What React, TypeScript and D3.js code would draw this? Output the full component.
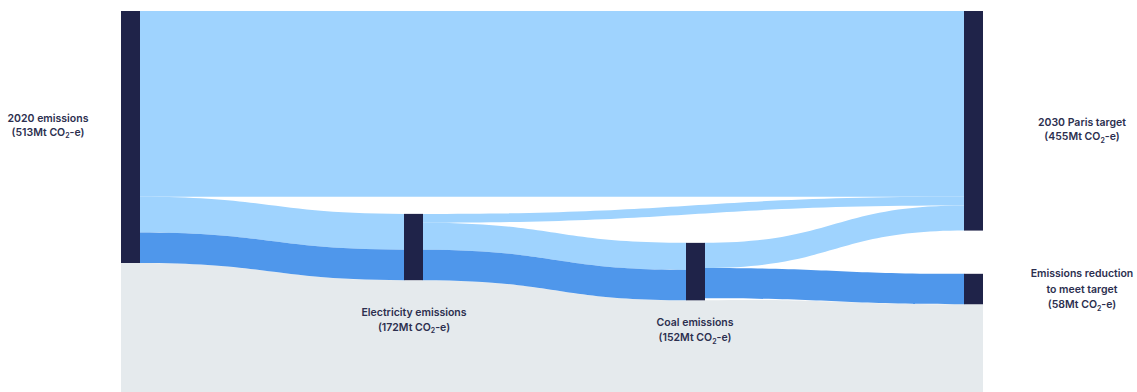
import React from "react";
import * as d3 from "d3";

// ---- data (Mt CO2-e) ----
const nodeNames = ["2020 emissions", "Electricity emissions", "Coal emissions", "2030 Paris target", "Emissions reduction"];
const nodeLabelLines = [
  ["2020 emissions", "(513Mt CO₂-e)"],
  ["Electricity emissions", "(172Mt CO₂-e)"],
  ["Coal emissions", "(152Mt CO₂-e)"],
  ["2030 Paris target", "(455Mt CO₂-e)"],
  ["Emissions reduction", "to meet target", "(58Mt CO₂-e)"],
];
const linkSources = [0, 0, 0, 1, 1, 1, 2, 2];
const linkTargets = [3, 1, 1, 3, 2, 2, 3, 4];
const linkValues = [378, 73, 62, 18, 55, 62, 51, 62];
const linkKinds = ["light", "light", "dark", "light", "light", "dark", "light", "dark"];

// ---- layout (not data) ----
const W = 1137;
const H = 392;
const nodeColumn = [0, 1, 2, 3, 3];
const nodeOffset = [0, 413, 472, 0, 535]; // in Mt units from the top
const labelAnchor = [
  { x: 48, y: 122, lh: 13.5 },
  { x: 414, y: 316, lh: 14.5 },
  { x: 695, y: 326, lh: 15 },
  { x: 1082, y: 126, lh: 14 },
  { x: 1082, y: 277, lh: 15.5 },
];
const NODE_W = 19;
const COLORS = {
  light: "#9fd3fe",
  dark: "#4f97eb",
  node: "#1f2349",
  grey: "#e5eaed",
  text: "#2c2f4f",
};

function ribbon(x0: number, x1: number, s0: number, s1: number, t0: number, t1: number) {
  const xm = (x0 + x1) / 2;
  return `M${x0},${s0}C${xm},${s0} ${xm},${t0} ${x1},${t0}L${x1},${t1}C${xm},${t1} ${xm},${s1} ${x0},${s1}Z`;
}

function Line({ text }: { text: string }) {
  const parts = text.split("CO₂");
  if (parts.length === 1) return <>{text}</>;
  return (
    <>
      {parts[0]}CO
      <tspan fontSize={7} dy={2.5}>2</tspan>
      <tspan dy={-2.5}>{parts[1]}</tspan>
    </>
  );
}

export default function App() {
  const x = d3.scaleLinear().domain([0, 1, 2, 3]).range([121, 404, 686, 964]);
  const y = d3.scaleLinear().domain([0, 513]).range([11, 263]);

  const nodeValue = nodeNames.map((_, i) => {
    const out = d3.sum(linkValues.filter((_, j) => linkSources[j] === i));
    const inn = d3.sum(linkValues.filter((_, j) => linkTargets[j] === i));
    return Math.max(out, inn);
  });
  const nodes = nodeNames.map((name, i) => ({
    name,
    x0: x(nodeColumn[i]),
    x1: x(nodeColumn[i]) + NODE_W,
    y0: y(nodeOffset[i]),
    y1: y(nodeOffset[i] + nodeValue[i]),
  }));

  const outCursor = nodeOffset.slice();
  const inCursor = nodeOffset.slice();
  const links = linkValues.map((v, j) => {
    const s = linkSources[j];
    const t = linkTargets[j];
    const so = outCursor[s];
    outCursor[s] += v;
    const to = inCursor[t];
    inCursor[t] += v;
    return {
      kind: linkKinds[j],
      x0: nodes[s].x1,
      x1: nodes[t].x0,
      s0: y(so),
      s1: y(so + v),
      t0: y(to),
      t1: y(to + v),
    };
  });

  // grey band under the dark (reduction) path
  const chain = links.filter((l) => l.kind === "dark");
  let grey = `M${nodes[0].x0},${chain[0].s1}L${chain[0].x0},${chain[0].s1}`;
  chain.forEach((l, i) => {
    const xm = (l.x0 + l.x1) / 2;
    grey += `C${xm},${l.s1} ${xm},${l.t1} ${l.x1},${l.t1}`;
    const next = chain[i + 1];
    grey += `L${next ? next.x0 : l.x1 + NODE_W},${l.t1}`;
  });
  grey += `L${chain[chain.length - 1].x1 + NODE_W},${H}L${nodes[0].x0},${H}Z`;

  return (
    <svg
      width={W}
      height={H}
      style={{ position: "absolute", left: 0, top: 0, background: "#fff" }}
      fontFamily="Inter, Lato, sans-serif"
    >
      <path d={grey} fill={COLORS.grey} />
      {links.map((l, i) => (
        <path
          key={i}
          d={ribbon(l.x0 - 0.5, l.x1 + 0.5, l.s0, l.s1, l.t0, l.t1)}
          fill={l.kind === "dark" ? COLORS.dark : COLORS.light}
        />
      ))}
      {nodes.map((n, i) => (
        <rect key={i} x={n.x0} y={n.y0} width={n.x1 - n.x0} height={n.y1 - n.y0} fill={COLORS.node} />
      ))}
      {nodeLabelLines.map((lines, i) => (
        <text
          key={i}
          x={labelAnchor[i].x}
          y={labelAnchor[i].y}
          textAnchor="middle"
          fontSize={10.5}
          fontWeight={600}
          fill={COLORS.text}
        >
          {lines.map((ln, k) => (
            <tspan key={k} x={labelAnchor[i].x} y={labelAnchor[i].y + k * labelAnchor[i].lh}>
              <Line text={ln} />
            </tspan>
          ))}
        </text>
      ))}
    </svg>
  );
}
